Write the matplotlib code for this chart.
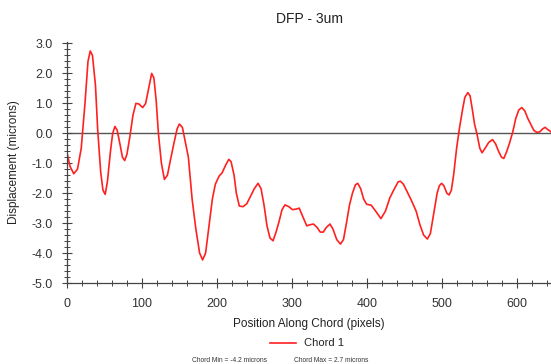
import matplotlib
matplotlib.use("Agg")
import matplotlib.pyplot as plt
from matplotlib.lines import Line2D
from matplotlib.ticker import MultipleLocator

plt.rcParams['font.family'] = ['Liberation Sans', 'DejaVu Sans']

title = "DFP - 3um"
x_label = "Position Along Chord (pixels)"
y_label = "Displacement (microns)"
series_name = "Chord 1"
chord_min = -4.2
chord_max = 2.7

position = [0, 4, 9, 14, 19, 24, 28, 31, 34, 38, 41, 45, 48, 51, 54, 58, 61, 64, 67, 71,
            74, 77, 80, 84, 88, 92, 96, 101, 105, 109, 113, 116, 119, 122, 126, 130, 134, 138, 143, 147,
            150, 154, 158, 162, 167, 172, 177, 181, 185, 190, 194, 198, 203, 207, 212, 216, 219, 223, 226, 230,
            235, 240, 245, 250, 255, 259, 263, 267, 271, 275, 279, 283, 287, 291, 296, 301, 306, 310, 315, 320,
            325, 329, 334, 338, 342, 346, 351, 355, 360, 365, 369, 373, 377, 381, 385, 388, 392, 396, 400, 406,
            412, 419, 425, 431, 437, 442, 445, 449, 454, 460, 466, 471, 476, 481, 485, 490, 494, 497, 500, 503,
            507, 510, 513, 516, 520, 524, 528, 531, 535, 538, 541, 544, 547, 551, 554, 558, 563, 568, 572, 576,
            580, 583, 587, 591, 595, 599, 603, 607, 611, 615, 619, 623, 627, 631, 635, 638, 642, 646]
displacement = [-0.65, -1.1, -1.35, -1.2, -0.5, 1.0, 2.4, 2.75, 2.6, 1.6, 0.1, -1.3, -1.9, -2.04, -1.6, -0.6, 0.0, 0.23, 0.1, -0.4,
                -0.8, -0.91, -0.7, -0.1, 0.6, 1.0, 0.98, 0.86, 1.0, 1.5, 2.0, 1.85, 1.1, 0.0, -1.0, -1.54, -1.4, -0.9, -0.3, 0.15,
                0.31, 0.2, -0.3, -0.8, -2.2, -3.2, -4.0, -4.23, -4.0, -3.0, -2.2, -1.7, -1.43, -1.32, -1.05, -0.87, -0.95, -1.4, -2.0, -2.43,
                -2.45, -2.35, -2.1, -1.85, -1.67, -1.85, -2.4, -3.1, -3.5, -3.59, -3.3, -2.95, -2.55, -2.39, -2.45, -2.55, -2.53, -2.5, -2.8, -3.09,
                -3.05, -3.03, -3.15, -3.3, -3.3, -3.15, -3.03, -3.2, -3.55, -3.7, -3.55, -3.0, -2.4, -2.0, -1.72, -1.67, -1.85, -2.2, -2.37, -2.4,
                -2.6, -2.85, -2.6, -2.15, -1.85, -1.62, -1.6, -1.7, -1.95, -2.26, -2.6, -3.05, -3.4, -3.53, -3.35, -2.6, -2.0, -1.75, -1.67, -1.75,
                -2.0, -2.06, -1.9, -1.4, -0.5, 0.2, 0.8, 1.2, 1.36, 1.25, 0.8, 0.3, 0.0, -0.5, -0.65, -0.5, -0.3, -0.21, -0.35, -0.6,
                -0.8, -0.84, -0.6, -0.3, 0.05, 0.5, 0.78, 0.86, 0.75, 0.5, 0.3, 0.1, 0.03, 0.05, 0.15, 0.2, 0.12, 0.05]

fig = plt.figure(figsize=(5.51, 3.64), dpi=100)
ax = fig.add_axes([67/551, 81/364, 1 - 67/551, 241/364])

ax.axhline(0, color='#555555', lw=1.0, zorder=1)
ax.plot(position, displacement, color='#ff2020', lw=1.2, zorder=2)

ax.set_xlim(0, 646)
ax.set_ylim(-5.0, 3.05)
ax.xaxis.set_major_locator(MultipleLocator(100))
ax.xaxis.set_minor_locator(MultipleLocator(20))
ax.yaxis.set_major_locator(MultipleLocator(1.0))
ax.yaxis.set_minor_locator(MultipleLocator(0.2))
ax.yaxis.set_major_formatter(matplotlib.ticker.FormatStrFormatter('%.1f'))

for s in ['top', 'right']:
    ax.spines[s].set_visible(False)
for s in ['left', 'bottom']:
    ax.spines[s].set_color('#444444')
    ax.spines[s].set_linewidth(0.9)

ax.tick_params(which='major', direction='inout', length=7, width=0.8, color='#444444',
               labelsize=9, labelcolor='#333333')
ax.tick_params(axis='y', which='major', pad=7)
ax.tick_params(axis='x', which='major', pad=7)
ax.tick_params(which='minor', direction='inout', length=4, width=0.7, color='#444444')

ax.set_title(title, fontsize=10, color='#222222', pad=14)
ax.set_xlabel(x_label, fontsize=8.5, color='#222222', labelpad=6)
ax.set_ylabel(y_label, fontsize=8.5, color='#222222', labelpad=8)

fig.lines.append(Line2D([270/551, 296/551], [1 - 342.5/364, 1 - 342.5/364],
                        transform=fig.transFigure, color='#ff2020', lw=1.2))
fig.text(304/551, 1 - 342.5/364, series_name, fontsize=8, color='#222222', va='center', ha='left')
fig.text(192/551, 1 - 360.5/364, f"Chord Min = {chord_min} microns", fontsize=4.8, color='#333333',
         va='center', ha='left')
fig.text(294/551, 1 - 360.5/364, f"Chord Max = {chord_max} microns", fontsize=4.8, color='#333333',
         va='center', ha='left')

fig.savefig("out.png", dpi=100)
